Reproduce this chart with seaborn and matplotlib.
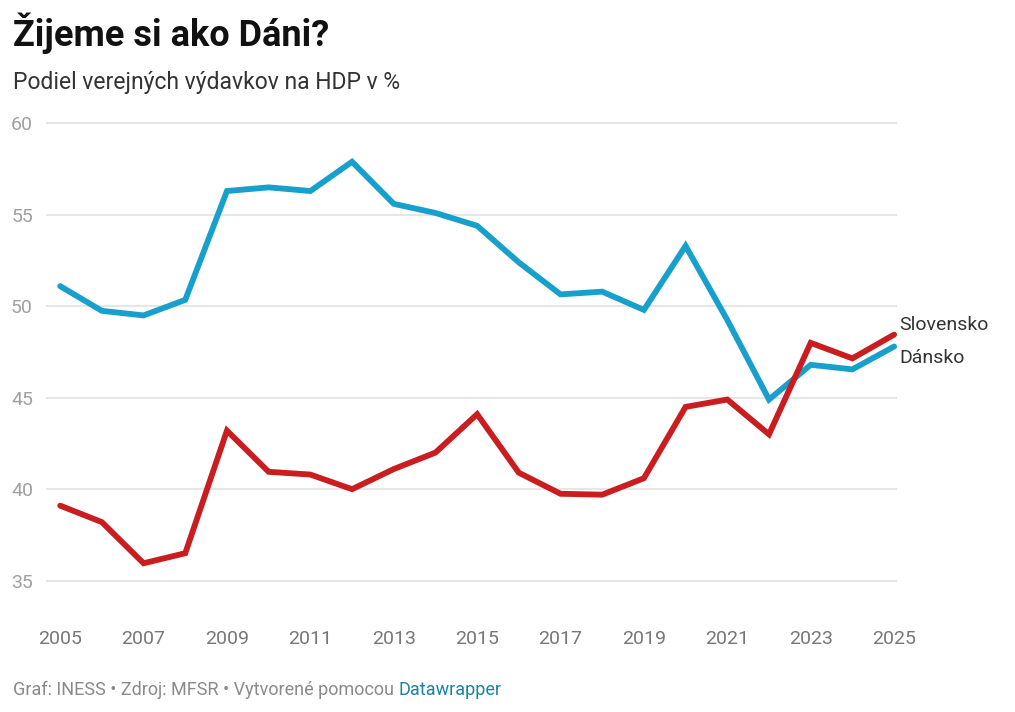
import numpy as np
import matplotlib.pyplot as plt
import pandas as pd
import seaborn as sns

years = list(range(2005, 2026))
dansko = [51.1, 49.75, 49.5, 50.35, 56.3, 56.5, 56.3, 57.9, 55.6, 55.1, 54.4,
          52.4, 50.65, 50.8, 49.8, 53.3, 49.25, 44.9, 46.8, 46.55, 47.8]
slovensko = [39.1, 38.2, 35.95, 36.5, 43.2, 40.95, 40.8, 40.0, 41.1, 42.0, 44.1,
             40.9, 39.75, 39.7, 40.6, 44.5, 44.9, 43.0, 48.0, 47.15, 48.45]
series_names = ["Dánsko", "Slovensko"]
colors = {"Dánsko": "#18a0cd", "Slovensko": "#c91d1f"}
y_ticks = [35, 40, 45, 50, 55, 60]
x_ticks = list(range(2005, 2026, 2))

title = "Žijeme si ako Dáni?"
subtitle = "Podiel verejných výdavkov na HDP v %"
footer = "Graf: INESS • Zdroj: MFSR • Vytvorené pomocou "

df = pd.DataFrame({"rok": years * 2,
                   "hodnota": dansko + slovensko,
                   "krajina": [series_names[0]] * len(years) + [series_names[1]] * len(years)})

sns.set_style("white")
plt.rcParams["font.family"] = ["Roboto", "DejaVu Sans"]

W, H = 1015, 712
fig = plt.figure(figsize=(W / 100, H / 100), dpi=100)
# axes placed in pixel terms
left, right, top, bottom = 46, 897, 114.2, 589.8
ax = fig.add_axes([left / W, 1 - bottom / H, (right - left) / W, (bottom - top) / H])

sns.lineplot(data=df, x="rok", y="hodnota", hue="krajina", palette=colors,
             linewidth=4.2, ax=ax, legend=False, solid_joinstyle="miter")

ax.set_xlim(2004.66, 2025.07)
ax.set_ylim(34.5, 60.5)
ax.set_yticks(y_ticks)
ax.set_xticks(x_ticks)
ax.set_xlabel("")
ax.set_ylabel("")
for s in ax.spines.values():
    s.set_visible(False)
ax.grid(axis="y", color="#e4e4e4", linewidth=1.3)
ax.set_axisbelow(True)
ax.tick_params(axis="y", length=0, pad=9.4, labelsize=14, labelcolor="#a0a0a0")
ax.tick_params(axis="x", length=0, pad=29, labelsize=14, labelcolor="#777777")

# end labels
ends = {"Slovensko": (slovensko[-1], 7), "Dánsko": (dansko[-1], -8)}
for name, (val, dy) in ends.items():
    ax.annotate(name, xy=(years[-1], val), xytext=(4, dy), textcoords="offset points",
                fontsize=14, color="#333333", va="center", ha="left",
                arrowprops=dict(arrowstyle="-", color=colors[name], linestyle=":",
                                linewidth=1, shrinkA=0, shrinkB=0))

fig.text(13 / W, 1 - 33 / H, title, fontsize=26, fontweight="bold", color="#111111",
         va="center", ha="left")
fig.text(13 / W, 1 - 83 / H, subtitle, fontsize=16.5, color="#333333", va="center", ha="left")
t = fig.text(13 / W, 1 - 690 / H, footer, fontsize=13, color="#8a8a8a", va="center", ha="left")
fig.canvas.draw()
bb = t.get_window_extent()
fig.text(bb.x1 / W, 1 - 690 / H, "Datawrapper", fontsize=13, color="#1d81a2",
         va="center", ha="left")

fig.savefig("out.png", dpi=100)
